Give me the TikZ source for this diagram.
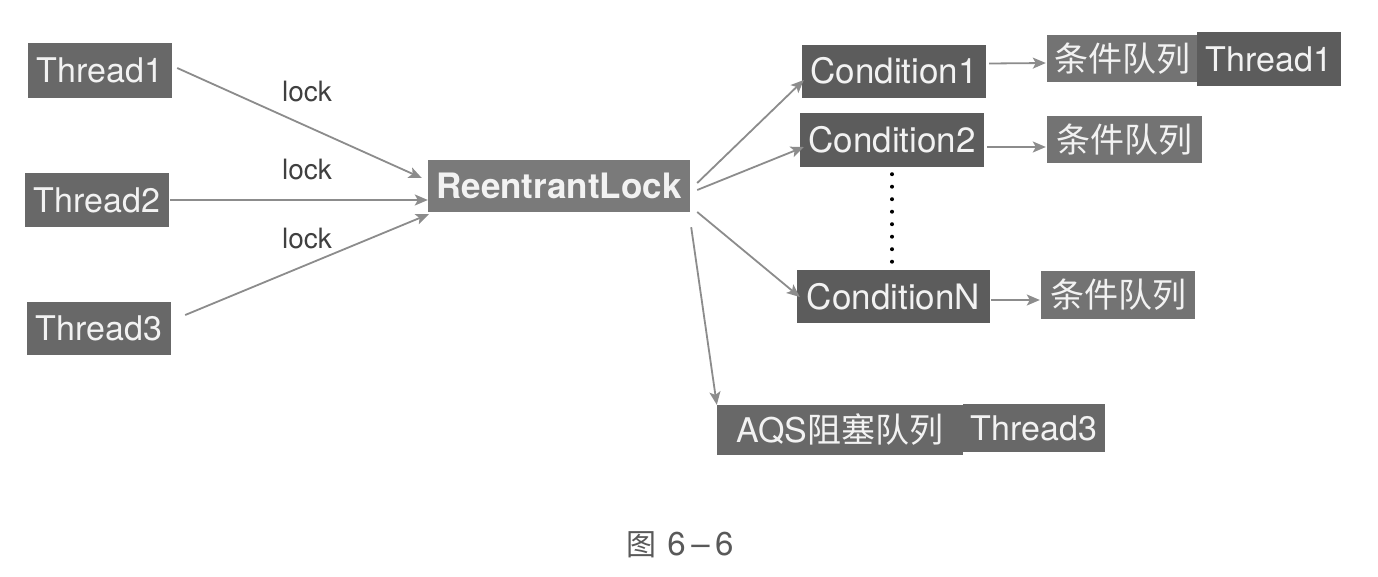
\documentclass[tikz,border=0pt]{standalone}
\usepackage{fontspec}
\setmainfont{TeX Gyre Heros}
\newfontfamily\cjk{Noto Sans CJK SC}
\usetikzlibrary{calc,arrows.meta}
\definecolor{boxA}{HTML}{686868}
\definecolor{boxC}{HTML}{5C5C5C}
\definecolor{boxQ}{HTML}{737373}
\definecolor{boxR}{HTML}{7A7A7A}
\definecolor{txtW}{HTML}{F2F2F2}
\definecolor{arrG}{HTML}{8C8C8C}
\begin{document}
\begin{tikzpicture}[x=1pt,y=-1pt,
  box/.style={fill=#1, text=txtW, inner sep=0pt, anchor=center, align=center,
    font=\fontsize{34}{40}\selectfont},
  box/.default=boxA,
  arr/.style={draw=arrG, line width=1.8pt, -{Stealth[length=13pt,width=11pt,inset=3pt]}},
  locklbl/.style={text=black!75, font=\fontsize{28}{32}\selectfont, inner sep=0pt}]
\useasboundingbox[fill=white] (0,0) rectangle (1378,576);

% left threads
\node[box=boxA, minimum width=144pt, minimum height=55pt] (t1) at (100,70.5) {Thread1};
\node[box=boxA, minimum width=144pt, minimum height=54pt] (t2) at (97,200) {Thread2};
\node[box=boxA, minimum width=144pt, minimum height=53pt] (t3) at (99,328.5) {Thread3};

% lock
\node[box=boxR, minimum width=262pt, minimum height=52pt,
  font=\fontsize{35}{40}\selectfont\bfseries] (rl) at (559,186) {ReentrantLock};

% lock labels
\node[locklbl] (l1) at (307,92) {lock};
\node[locklbl] (l2) at (307,169) {lock};
\node[locklbl] (l3) at (307,238) {lock};

% conditions
\node[box=boxC, minimum width=184pt, minimum height=53pt, font=\fontsize{35}{40}\selectfont] (c1) at (894,71) {Condition1};
\node[box=boxC, minimum width=184pt, minimum height=54pt, font=\fontsize{35}{40}\selectfont] (c2) at (892,140) {Condition2};
\node[box=boxC, minimum width=193pt, minimum height=53pt, font=\fontsize{35}{40}\selectfont] (cn) at (893.5,296.5) {ConditionN};

% queues
\node[box=boxQ, minimum width=150pt, minimum height=47pt] (q1) at (1122,58.5) {\cjk 条件队列};
\node[box=boxC, minimum width=144pt, minimum height=54pt] (th1) at (1269,59) {Thread1};
\node[box=boxQ, minimum width=155pt, minimum height=47pt] (q2) at (1124.5,139.5) {\cjk 条件队列};
\node[box=boxQ, minimum width=154pt, minimum height=48pt] (qn) at (1118,295) {\cjk 条件队列};

% AQS
\node[box=boxA, minimum width=246pt, minimum height=50pt] (aqs) at (840,430) {AQS{\cjk 阻塞队列}};
\node[box=boxA, minimum width=142pt, minimum height=48pt] (th3) at (1034,428) {Thread3};

% caption
\node[text=black!65, inner sep=0pt, font=\fontsize{33}{36}\selectfont] (cap) at (680,545) {{\cjk\fontsize{30}{34}\selectfont 图}\,\,6\,--\,6};

% arrows into lock
\draw[arr] ($(t1.east)+(5,-2.5)$) -- ($(rl.west)+(-6,-8)$);
\draw[arr] ($(t2.east)+(1,0)$) -- ($(rl.west)+(0,14)$);
\draw[arr] ($(t3.east)+(14,-13.5)$) -- ($(rl.south west)+(1,2)$);

% arrows out of lock
\draw[arr] ($(rl.east)+(7,-3)$) -- ($(c1.west)+(2,9)$);
\draw[arr] ($(rl.east)+(7,4)$) -- ($(c2.west)+(4,7)$);
\draw[arr] ($(rl.east)+(7,26)$) -- ($(cn.west)+(3,0.5)$);
\draw[arr] ($(rl.south east)+(1,15)$) -- ($(aqs.north west)+(0,0)$);

% condition to queue
\draw[arr] ($(c1.east)+(3,-7.5)$) -- ($(q1.west)+(-1,4.5)$);
\draw[arr] ($(c2.east)+(3,7)$) -- ($(q2.west)+(-1,7.5)$);
\draw[arr] ($(cn.east)+(1,3.5)$) -- ($(qn.west)+(-1,5)$);

% dotted
\draw[black, line width=4pt, line cap=round, dash pattern=on 0pt off 12.5pt]
  ($(c2.south)+(0,7)$) -- ($(cn.north)+(-1.5,-1)$);
\end{tikzpicture}
\end{document}
